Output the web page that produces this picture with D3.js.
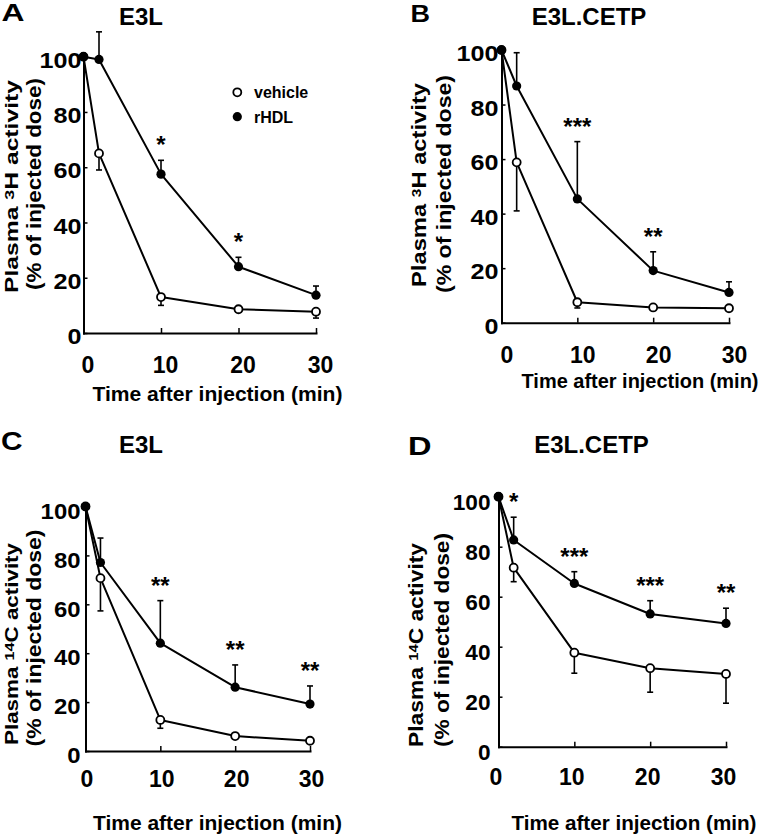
<!DOCTYPE html>
<html><head><meta charset="utf-8">
<script src="https://cdn.jsdelivr.net/npm/d3@7"></script>
<style>
body{margin:0;background:#fff}
svg{display:block}
text{font-family:"Liberation Sans",Arial,Helvetica,sans-serif;font-weight:bold;fill:#000}
</style>
</head><body>
<svg id="chart" width="760" height="840"></svg>
<script>
// ---- data ----
const times = [0, 2, 10, 20, 30];
const xTicks = [0, 10, 20, 30];
const yTicks = [0, 20, 40, 60, 80, 100];
const seriesNames = ["vehicle", "rHDL"];
const panelLetters = ["A", "B", "C", "D"];
const panelTitles = ["E3L", "E3L.CETP", "E3L", "E3L.CETP"];
const isotopes = ["3", "3", "14", "14"];
const isotopeElements = ["H", "H", "C", "C"];
const xTitle = "Time after injection (min)";

const vehicleA = [100, 65, 13, 8.6, 7.7];
const vehicleAErr = [0, 6, 3, 1, 2.3];
const rhdlA = [100, 99, 57.5, 24, 13.7];
const rhdlAErr = [0, 10, 5, 3.4, 3.3];
const sigA = ["", "", "*", "*", ""];

const vehicleB = [100, 58.8, 7.5, 5.6, 5.3];
const vehicleBErr = [0, 17.8, 2.1, 0.8, 0.8];
const rhdlB = [100, 86.8, 45.4, 19.1, 11.1];
const rhdlBErr = [0, 12.2, 21, 6.9, 3.9];
const sigB = ["", "", "***", "**", ""];

const vehicleC = [100, 70.7, 12.7, 6.1, 4.2];
const vehicleCErr = [0, 13.4, 3.4, 1, 1];
const rhdlC = [100, 77.1, 44.1, 26.1, 19.2];
const rhdlCErr = [0, 10, 17.4, 9.1, 7.4];
const sigC = ["", "", "**", "**", "**"];

const vehicleD = [100, 71.6, 37.6, 31.4, 29.1];
const vehicleDErr = [0, 5.6, 8.2, 9.6, 11.7];
const rhdlD = [100, 82.7, 65.3, 53.1, 49.3];
const rhdlDErr = [0, 9.1, 4.7, 5.3, 6.1];
const sigD = ["", "*", "***", "***", "**"];

const panelData = [
  {veh: vehicleA, vehErr: vehicleAErr, rhdl: rhdlA, rhdlErr: rhdlAErr, sig: sigA},
  {veh: vehicleB, vehErr: vehicleBErr, rhdl: rhdlB, rhdlErr: rhdlBErr, sig: sigB},
  {veh: vehicleC, vehErr: vehicleCErr, rhdl: rhdlC, rhdlErr: rhdlCErr, sig: sigC},
  {veh: vehicleD, vehErr: vehicleDErr, rhdl: rhdlD, rhdlErr: rhdlDErr, sig: sigD}
];

// ---- layout (positions and sizes only) ----
const layout = [
  {xL: 83.5, xR: 316, yB: 333, yT: 56.7, yPad: 2, yLabDy: 3, yDigit: 14, xLabY: 32, xLabDx: 4,
   letter: [1.5, 20.7, 23, 23], title: [141, 25],
   yt1: [18, 186.5, 213, 18], yt2: [40.8, 184, 212], xt: [217.5, 401, 250]},
  {xL: 501.5, xR: 729, yB: 322.7, yT: 50, yPad: 3, yLabDy: 3, yDigit: 14, xLabY: 32, xLabDx: 5,
   letter: [410.5, 21.7, 24.5, 19.5], title: [589, 25],
   yt1: [425.8, 185, 204, 20], yt2: [450.8, 184, 218], xt: [640, 387.5, 237]},
  {xL: 85.5, xR: 310, yB: 751, yT: 506.5, yPad: 5, yLabDy: 4, yDigit: 13.3, xLabY: 28, xLabDx: 1,
   letter: [1, 450, 25, 21.5], title: [141, 453],
   yt1: [18, 644, 202, 18], yt2: [40.8, 638, 217], xt: [217.5, 830, 249]},
  {xL: 498.5, xR: 726, yB: 746.7, yT: 496.7, yPad: 8, yLabDy: 5, yDigit: 12.6, xLabY: 30, xLabDx: -3,
   letter: [408, 455, 25.5, 23.5], title: [591.5, 453],
   yt1: [422.5, 645, 204, 20], yt2: [448.8, 640, 214], xt: [634, 830, 245]}
];

const svg = d3.select("#chart");

panelData.forEach((p, i) => {
  const L = layout[i];
  const x = d3.scaleLinear().domain([0, 30]).range([L.xL, L.xR]);
  const y = d3.scaleLinear().domain([0, 100]).range([L.yB, L.yT]);
  const g = svg.append("g");

  // y axis
  const ya = g.append("g").attr("transform", `translate(${L.xL},0)`)
    .call(d3.axisLeft(y).tickValues(yTicks).tickSize(-4).tickSizeOuter(0)
      .tickPadding(L.yPad).tickFormat(d3.format("d")));
  ya.attr("font-size", null).attr("font-family", null);
  ya.select(".domain").attr("stroke-width", 2).attr("stroke-linecap", "square");
  ya.selectAll(".tick line").attr("stroke-width", 1.5);
  ya.selectAll(".tick text").attr("font-size", 22).attr("dy", "0.35em").attr("y", L.yLabDy)
    .attr("textLength", d => String(d).length * L.yDigit).attr("lengthAdjust", "spacingAndGlyphs");

  // x axis
  const xa = g.append("g").attr("transform", `translate(0,${L.yB})`)
    .call(d3.axisBottom(x).tickValues(xTicks).tickSize(-5).tickSizeOuter(0)
      .tickPadding(0).tickFormat(d3.format("d")));
  xa.attr("font-size", null).attr("font-family", null);
  xa.select(".domain").attr("stroke-width", 2).attr("stroke-linecap", "square");
  xa.selectAll(".tick line").attr("stroke-width", 1.5);
  xa.selectAll(".tick text").attr("font-size", 23).attr("y", L.xLabY).attr("dy", "0.35em").attr("dx", L.xLabDx);

  // panel letter and title
  g.append("text").attr("x", L.letter[0]).attr("y", L.letter[1]).attr("font-size", L.letter[2])
    .attr("textLength", L.letter[3]).attr("lengthAdjust", "spacingAndGlyphs").text(panelLetters[i]);
  g.append("text").attr("x", L.title[0]).attr("y", L.title[1]).attr("font-size", 24)
    .attr("text-anchor", "middle").text(panelTitles[i]);

  // y title
  const t1 = g.append("text").attr("font-size", L.yt1[3]).attr("text-anchor", "middle")
    .attr("textLength", L.yt1[2]).attr("lengthAdjust", "spacingAndGlyphs")
    .attr("transform", `translate(${L.yt1[0]},${L.yt1[1]}) rotate(-90)`);
  t1.append("tspan").text("Plasma ");
  t1.append("tspan").attr("font-size", 13).attr("dy", -4.5).text(isotopes[i]);
  t1.append("tspan").attr("dy", 4.5).text(isotopeElements[i] + " activity");
  g.append("text").attr("font-size", 20).attr("text-anchor", "middle")
    .attr("textLength", L.yt2[2]).attr("lengthAdjust", "spacingAndGlyphs")
    .attr("transform", `translate(${L.yt2[0]},${L.yt2[1]}) rotate(-90)`)
    .text("(% of injected dose)");

  // x title
  g.append("text").attr("x", L.xt[0]).attr("y", L.xt[1]).attr("font-size", 20)
    .attr("text-anchor", "middle").attr("textLength", L.xt[2]).attr("lengthAdjust", "spacingAndGlyphs")
    .text(xTitle);

  const line = d3.line().x((d, j) => x(times[j])).y(d => y(d));
  const series = [
    {name: seriesNames[0], vals: p.veh, err: p.vehErr, dir: -1},
    {name: seriesNames[1], vals: p.rhdl, err: p.rhdlErr, dir: 1}
  ];
  series.forEach(s => {
    g.append("path").attr("d", line(s.vals)).attr("fill", "none")
      .attr("stroke", "#000").attr("stroke-width", 2).attr("stroke-linejoin", "round");
  });
  // error bars
  series.forEach(s => {
    s.vals.forEach((v, j) => {
      if (!s.err[j]) return;
      const yEnd = y(v + s.dir * s.err[j]);
      g.append("line").attr("x1", x(times[j])).attr("x2", x(times[j]))
        .attr("y1", y(v)).attr("y2", yEnd).attr("stroke", "#000").attr("stroke-width", 1.6);
      g.append("line").attr("x1", x(times[j]) - 3).attr("x2", x(times[j]) + 3)
        .attr("y1", yEnd).attr("y2", yEnd).attr("stroke", "#000").attr("stroke-width", 1.6);
    });
  });
  // markers
  g.selectAll(null).data(p.veh).join("circle")
    .attr("cx", (d, j) => x(times[j])).attr("cy", d => y(d)).attr("r", 4)
    .attr("fill", "#fff").attr("stroke", "#000").attr("stroke-width", 1.8);
  g.selectAll(null).data(p.rhdl).join("circle")
    .attr("cx", (d, j) => x(times[j])).attr("cy", d => y(d)).attr("r", 4.6)
    .attr("fill", "#000");
  // significance
  p.sig.forEach((s, j) => {
    if (!s) return;
    g.append("text").attr("x", x(times[j])).attr("y", y(p.rhdl[j] + p.rhdlErr[j]) - 7)
      .attr("font-size", 24).attr("text-anchor", "middle").text(s);
  });

  // legend in panel A
  if (i === 0) {
    const lg = g.append("g");
    seriesNames.forEach((n, k) => {
      const cy = 92.3 + k * 24.4;
      lg.append("circle").attr("cx", 237.3).attr("cy", cy).attr("r", k === 0 ? 4 : 4.6)
        .attr("fill", k === 0 ? "#fff" : "#000").attr("stroke", "#000").attr("stroke-width", k === 0 ? 1.8 : 0);
      lg.append("text").attr("x", 254).attr("y", cy + 6).attr("font-size", 16).text(n);
    });
  }
});
</script>
</body></html>
